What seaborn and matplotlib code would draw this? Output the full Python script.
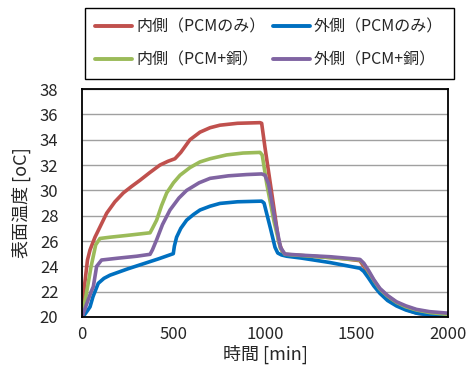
import matplotlib
matplotlib.use("Agg")
import matplotlib.pyplot as plt
import seaborn as sns
import pandas as pd

# ---- data ----
labels = ["内側（PCMのみ）", "外側（PCMのみ）", "内側（PCM+銅）", "外側（PCM+銅）"]
colors = ["#C0504D", "#0070C0", "#9BBB59", "#8064A2"]

t_in_pcm = [0, 10, 30, 44, 71, 98, 135, 180, 226, 270, 317, 370, 426, 470, 508, 540, 590, 645, 700, 754,
            850, 973, 982, 1000, 1040, 1075, 1100, 1200, 1300, 1400, 1519, 1545, 1570, 1600, 1630, 1670,
            1720, 1780, 1830, 1900, 2000]
v_in_pcm = [20, 22, 24.5, 25.3, 26.3, 27.1, 28.2, 29.1, 29.8, 30.3, 30.8, 31.4, 32.0, 32.3, 32.5, 33.0, 34.0,
            34.6, 34.95, 35.15, 35.3, 35.35, 35.3, 33.4, 29.5, 26.0, 24.95, 24.85, 24.75, 24.65, 24.45,
            23.9, 23.2, 22.5, 21.95, 21.45, 20.95, 20.55, 20.3, 20.15, 20.05]

t_out_pcm = [0, 15, 30, 44, 60, 89, 120, 153, 250, 335, 420, 499, 505, 517, 540, 572, 610, 645, 700, 754,
             850, 982, 995, 1030, 1055, 1070, 1090, 1118, 1200, 1355, 1519, 1540, 1565, 1595, 1628, 1670,
             1719, 1770, 1828, 1900, 2000]
v_out_pcm = [20, 20.2, 20.5, 20.8, 21.6, 22.66, 23.05, 23.3, 23.8, 24.2, 24.6, 25.0, 25.6, 26.3, 27.0, 27.65,
             28.1, 28.45, 28.75, 28.97, 29.1, 29.15, 29.0, 27.0, 25.5, 25.05, 24.9, 24.8, 24.65, 24.3, 23.85,
             23.6, 23.1, 22.45, 21.87, 21.3, 20.87, 20.55, 20.3, 20.15, 20.08]

t_in_cu = [0, 20, 50, 75, 98, 153, 250, 372, 385, 408, 435, 463, 500, 536, 590, 645, 700, 790, 880, 973,
           985, 1010, 1050, 1085, 1109, 1300, 1519, 1540, 1565, 1595, 1628, 1670, 1719, 1770, 1828, 1900, 2000]
v_in_cu = [20, 21.5, 24.0, 25.7, 26.2, 26.3, 26.45, 26.65, 27.0, 27.65, 28.8, 29.8, 30.6, 31.2, 31.8, 32.25,
           32.5, 32.8, 32.95, 33.0, 32.8, 30.5, 27.5, 25.4, 24.95, 24.75, 24.5, 24.2, 23.6, 22.9, 22.2,
           21.65, 21.15, 20.8, 20.55, 20.35, 20.2]

t_out_cu = [0, 20, 50, 62, 80, 107, 200, 300, 372, 385, 408, 440, 481, 530, 572, 640, 700, 800, 900, 982,
            1000, 1020, 1055, 1085, 1109, 1200, 1355, 1519, 1540, 1565, 1595, 1628, 1670, 1719, 1770, 1828,
            1900, 2000]
v_out_cu = [20, 20.8, 22.0, 22.4, 24.0, 24.5, 24.65, 24.8, 24.95, 25.3, 26.1, 27.3, 28.45, 29.4, 30.0, 30.6,
            30.95, 31.15, 31.25, 31.3, 31.2, 30.5, 27.65, 25.5, 24.97, 24.88, 24.76, 24.55, 24.25, 23.7,
            22.95, 22.26, 21.7, 21.2, 20.88, 20.6, 20.42, 20.3]

x_ticks = [0, 500, 1000, 1500, 2000]
y_ticks = [20, 22, 24, 26, 28, 30, 32, 34, 36, 38]
x_label = "時間 [min]"
y_label = "表面温度 [oC]"

series = [(t_in_pcm, v_in_pcm), (t_out_pcm, v_out_pcm), (t_in_cu, v_in_cu), (t_out_cu, v_out_cu)]

# ---- plot ----
sns.set_style("white")
plt.rcParams["font.family"] = ["Noto Sans CJK JP", "DejaVu Sans"]

fig = plt.figure(figsize=(4.72, 3.76), dpi=100)
ax = fig.add_axes([0.1737, 0.157, 0.949 - 0.1737, 0.763 - 0.157])

for (t, v), lab, c in zip(series, labels, colors):
    df = pd.DataFrame({"t": t, "v": v})
    sns.lineplot(data=df, x="t", y="v", ax=ax, color=c, label=lab, linewidth=2.6, sort=False)

ax.set_xlim(0, 2000)
ax.set_ylim(20, 38)
ax.set_xticks(x_ticks)
ax.set_yticks(y_ticks)
ax.yaxis.grid(True, color="#A0A0A0", linewidth=1.0)
ax.set_axisbelow(True)
for s in ax.spines.values():
    s.set_color("black")
    s.set_linewidth(1.3)
ax.tick_params(axis="x", direction="inout", length=7, width=1.2, labelsize=12, pad=3, color="black")
ax.tick_params(axis="y", direction="out", length=0, labelsize=12, pad=17)
ax.set_xlabel(x_label, fontsize=13, labelpad=1)
ax.set_ylabel(y_label, fontsize=13, labelpad=6)

handles, labs = ax.get_legend_handles_labels()
ax.legend_.remove()
order = [0, 2, 1, 3]  # column-major fill -> rows: (red, blue), (green, purple)
leg = fig.legend([handles[i] for i in order], [labs[i] for i in order], ncol=2, loc="upper left",
                 bbox_to_anchor=(85 / 472, 1 - 8 / 376), borderaxespad=0, fontsize=11.5,
                 frameon=True, fancybox=False, edgecolor="black", framealpha=1,
                 handlelength=2.3, handletextpad=0.25, columnspacing=0.5,
                 borderpad=0.65, labelspacing=1.0)
leg.get_frame().set_linewidth(1.0)
for line in leg.get_lines():
    line.set_linewidth(2.8)

fig.savefig("out.png", dpi=100)
